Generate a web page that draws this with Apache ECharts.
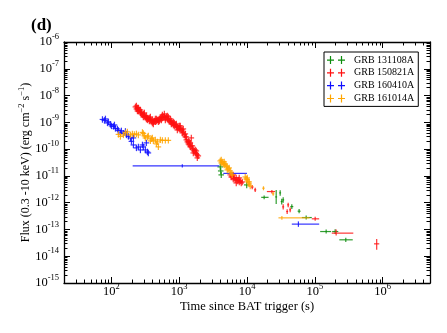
<!DOCTYPE html>
<html><head><meta charset="utf-8">
<script src="https://cdn.jsdelivr.net/npm/echarts@6/dist/echarts.min.js"></script>
<style>html,body{margin:0;padding:0;background:#fff}#c{width:447px;height:333px}</style>
</head><body><div id="c"></div>
<script>
// ---------------- DATA ----------------
const seriesNames = ['GRB 131108A', 'GRB 150821A', 'GRB 160410A', 'GRB 161014A'];
const seriesColors = ['#0c8c0c', '#ff1010', '#1010ff', '#ffa500'];

// x axis range (s) and y axis range (erg cm^-2 s^-1)
const timeRange = [20, 5e6];
const fluxRange = [1e-15, 1e-6];

// typical fractional errors of the densely sampled points
const denseTimeErr = 0.1;
const denseFluxErr = 0.32;

// dense points: [time, flux]
const grb131108A_dense = [
  [4031, 2.17e-11], [4100, 1.53e-11], [4170, 1.09e-11], [9900, 4.6e-12]
];
// points with explicit bars: [time, flux, tmin, tmax, fmin, fmax]
const grb131108A_bars = [
  [17900, 1.58e-12, 16200, 20800, 1.33e-12, 1.87e-12],
  [26944, 1.64e-12, 26100, 27800, 9.0e-13, 3.0e-12],
  [30858, 2.32e-12, 29900, 31800, 1.8e-12, 2.9e-12],
  [32500, 1.10e-12, 31400, 33600, 8.5e-13, 1.4e-12],
  [34164, 1.27e-12, 33000, 35300, 1.0e-12, 1.6e-12],
  [45800, 7.15e-13, 43500, 48200, 5.8e-13, 8.8e-13],
  [58700, 4.8e-13, 55800, 61700, 4.0e-13, 5.8e-13],
  [74590, 2.78e-13, 64400, 90300, 2.35e-13, 3.3e-13],
  [147050, 8.35e-14, 119950, 174230, 7.0e-14, 1.0e-13],
  [199560, 8.35e-14, 180240, 222000, 6.8e-14, 1.02e-13],
  [286400, 4.1e-14, 230000, 362800, 3.4e-14, 4.9e-14]
];

const grb150821A_dense = [
  [226, 3.76e-9], [234, 3.16e-9], [242, 3.45e-9], [250, 2.66e-9], [259, 2.90e-9],
  [268, 2.25e-9], [277, 2.45e-9], [287, 1.89e-9], [296, 2.06e-9], [307, 1.74e-9],
  [317, 1.59e-9], [328, 1.74e-9], [340, 1.46e-9], [351, 1.34e-9], [363, 1.46e-9],
  [376, 1.23e-9], [389, 1.13e-9], [402, 1.23e-9], [416, 1.04e-9], [430, 1.13e-9],
  [445, 1.04e-9], [461, 1.13e-9], [477, 1.23e-9], [493, 1.23e-9], [510, 1.34e-9],
  [528, 1.46e-9], [546, 1.59e-9], [565, 1.46e-9], [584, 1.59e-9], [604, 1.59e-9],
  [625, 1.46e-9], [647, 1.59e-9], [669, 1.34e-9], [692, 1.23e-9], [716, 1.13e-9],
  [740, 1.04e-9], [766, 8.7e-10], [792, 9.5e-10], [820, 8.0e-10], [848, 7.35e-10],
  [877, 8.0e-10], [907, 6.75e-10], [939, 6.75e-10], [971, 6.19e-10], [1005, 5.68e-10],
  [1039, 5.68e-10], [1075, 5.2e-10], [1112, 5.2e-10], [1151, 4.39e-10], [1190, 3.39e-10],
  [1231, 2.86e-10], [1274, 2.21e-10], [1318, 1.86e-10], [1363, 2.03e-10], [1410, 1.43e-10],
  [1459, 1.21e-10], [1509, 1.32e-10], [1561, 1.02e-10], [1615, 9.3e-11], [1671, 8.55e-11],
  [1728, 7.2e-11], [1788, 6.6e-11], [1850, 6.08e-11], [1913, 5.58e-11],
  [234, 4.09e-9], [250, 3.45e-9], [277, 2.06e-9], [307, 2.25e-9], [340, 1.23e-9],
  [376, 1.59e-9], [416, 8.7e-10], [461, 1.34e-9], [510, 1.13e-9], [565, 1.89e-9],
  [625, 1.23e-9], [692, 1.59e-9], [766, 1.13e-9], [848, 9.5e-10], [939, 5.2e-10],
  [1039, 7.35e-10], [1151, 5.68e-10], [1274, 2.86e-10], [1410, 1.86e-10], [1509, 2.62e-10],
  [1561, 1.32e-10], [1728, 9.3e-11], [1850, 4.70e-11],
  [242, 2.66e-9], [268, 2.90e-9], [296, 1.59e-9], [328, 1.34e-9], [363, 1.13e-9],
  [402, 9.5e-10], [445, 1.34e-9], [493, 1.04e-9], [546, 1.23e-9], [604, 2.06e-9],
  [669, 1.74e-9], [740, 1.34e-9], [820, 1.04e-9], [907, 8.7e-10], [1005, 7.35e-10],
  [1112, 4.03e-10], [1231, 3.70e-10], [1363, 1.57e-10], [1459, 1.71e-10], [1615, 7.2e-11],
  [1788, 8.55e-11],
  [5660, 1.09e-11], [5855, 9.1e-12], [6057, 9.95e-12], [6266, 7.7e-12], [6483, 8.4e-12],
  [6706, 7.1e-12], [6938, 8.4e-12], [7177, 6.5e-12], [7425, 7.1e-12], [7681, 5.95e-12],
  [7946, 6.5e-12], [8220, 5.45e-12], [8504, 5.95e-12], [6266, 1.09e-11], [6938, 5.45e-12],
  [7681, 8.4e-12]
];
const grb150821A_bars = [
  [11940, 3.85e-12, 11400, 12500, 3.2e-12, 4.6e-12],
  [13216, 3.0e-12, 12700, 13700, 2.5e-12, 3.6e-12],
  [23280, 2.6e-12, 19630, 26000, 2.2e-12, 3.0e-12],
  [34164, 6.97e-13, 33100, 35300, 5.5e-13, 8.8e-13],
  [40478, 8.3e-13, 39200, 41800, 6.8e-13, 1.0e-12],
  [43320, 5.4e-13, 42000, 44700, 4.4e-13, 6.6e-13],
  [39128, 4.66e-13, 37900, 40400, 3.8e-13, 5.7e-13],
  [101240, 2.49e-13, 90300, 115950, 2.1e-13, 2.95e-13],
  [206440, 7.28e-14, 177800, 369600, 6.0e-14, 1.0e-13],
  [818000, 2.9e-14, 747000, 893000, 1.73e-14, 4.35e-14]
];

const grb160410A_dense = [
  [73.8, 1.28e-9], [79, 1.18e-9], [81.7, 1.34e-9], [87.5, 9.5e-10], [90.5, 1.04e-9],
  [96.8, 8.35e-10], [100.2, 7.35e-10], [107.2, 7.05e-10], [110.9, 8.0e-10], [114.7, 5.93e-10],
  [122.8, 5.68e-10], [127, 4.98e-10], [135.9, 4.03e-10], [140.6, 4.78e-10], [150.5, 3.86e-10],
  [161, 4.58e-10], [166.6, 3.39e-10], [178.3, 2.98e-10], [190.8, 2.62e-10], [197.4, 1.94e-10],
  [211.2, 2.62e-10], [211.2, 1.43e-10], [234, 1.11e-10], [250, 1.21e-10], [268, 9.3e-11],
  [287, 1.43e-10], [296, 1.21e-10], [317, 9.3e-11], [328, 1.71e-10], [340, 7.85e-11],
  [351, 7.2e-11]
];
const grb160410A_bars = [
  [1112, 2.36e-11, 206, 3890, 2.05e-11, 2.7e-11],
  [6000, 1.24e-11, 4470, 9990, 1.1e-11, 1.4e-11],
  [57300, 1.58e-13, 45800, 116000, 1.25e-13, 2.0e-13]
];

const grb161014A_dense = [
  [127, 3.54e-10], [136, 2.98e-10], [150.5, 3.39e-10], [161, 4.03e-10], [172, 4.39e-10],
  [191, 3.39e-10], [204, 3.70e-10], [218, 3.54e-10], [234, 3.70e-10], [250, 3.39e-10],
  [287, 4.2e-10], [296, 3.86e-10], [307, 3.11e-10], [317, 2.62e-10], [340, 2.86e-10],
  [351, 3.11e-10], [376, 2.03e-10], [389, 2.41e-10], [402, 2.62e-10], [416, 2.03e-10],
  [445, 2.21e-10], [461, 1.57e-10], [477, 1.86e-10], [493, 1.21e-10], [528, 2.21e-10],
  [565, 2.12e-10], [625, 2.12e-10], [692, 2.12e-10],
  [4031, 3.62e-11], [4170, 3.05e-11], [4314, 3.33e-11], [4463, 2.8e-11], [4617, 2.57e-11],
  [4777, 2.8e-11], [4942, 2.36e-11], [5112, 2.16e-11], [5289, 1.82e-11], [5471, 1.98e-11],
  [5660, 1.53e-11], [5855, 1.29e-11], [6057, 1.09e-11], [4170, 3.95e-11], [4617, 3.33e-11],
  [5112, 1.67e-11], [9415, 9.1e-12], [9740, 7.7e-12], [10076, 7.1e-12], [10424, 5.95e-12],
  [10780, 5.0e-12], [11155, 4.2e-12], [10076, 8.4e-12], [10780, 5.95e-12]
];
const grb161014A_bars = [
  [17500, 3.47e-12, 16800, 18200, 2.9e-12, 4.1e-12],
  [24330, 2.13e-12, 23400, 25300, 1.8e-12, 2.5e-12],
  [32700, 2.71e-13, 29100, 83800, 2.3e-13, 3.2e-13]
];

const xTickExponents = [2, 3, 4, 5, 6];
const yTickExponents = [-15, -14, -13, -12, -11, -10, -9, -8, -7, -6];

// ---------------- BUILD ----------------
const FONT = 'Liberation Serif';
function withBars(dense, bars) {
  const out = dense.map(p => [p[0], p[1], p[0] / (1 + denseTimeErr), p[0] * (1 + denseTimeErr),
                              p[1] / (1 + denseFluxErr), p[1] * (1 + denseFluxErr)]);
  return out.concat(bars);
}
const allData = [
  withBars(grb131108A_dense, grb131108A_bars),
  withBars(grb150821A_dense, grb150821A_bars),
  withBars(grb160410A_dense, grb160410A_bars),
  withBars(grb161014A_dense, grb161014A_bars)
];

function crossRenderer(color) {
  return function (params, api) {
    const t = api.value(0), f = api.value(1);
    const a = api.coord([api.value(2), f]), b = api.coord([api.value(3), f]);
    const c = api.coord([t, api.value(4)]), d = api.coord([t, api.value(5)]);
    const st = { stroke: color, lineWidth: 1.2, opacity: 0.85 };
    return { type: 'group', children: [
      { type: 'line', shape: { x1: a[0], y1: a[1], x2: b[0], y2: b[1] }, style: st },
      { type: 'line', shape: { x1: c[0], y1: c[1], x2: d[0], y2: d[1] }, style: st }
    ] };
  };
}

// minor ticks (2..9 x 10^k) for both log axes
const minorTicks = [];
for (let e = 1; e <= 6; e++) for (let m = 2; m <= 9; m++) {
  const v = m * Math.pow(10, e);
  if (v > timeRange[0] && v < timeRange[1]) minorTicks.push([v, 1e-10, 0]);
}
for (let e = -15; e <= -7; e++) for (let m = 2; m <= 9; m++) {
  const v = m * Math.pow(10, e);
  if (v > fluxRange[0] && v < fluxRange[1]) minorTicks.push([1000, v, 1]);
}

function powLabel(exps) {
  return function (value) {
    const e = Math.round(Math.log10(value));
    if (Math.abs(value / Math.pow(10, e) - 1) > 1e-6 || exps.indexOf(e) < 0) return '';
    return '{b|10}{s|' + e + '}';
  };
}
const labelRich = {
  b: { fontFamily: FONT, fontSize: 12.5, color: '#000' },
  s: { fontFamily: FONT, fontSize: 8.5, color: '#000', padding: [0, 0, 10, 0] }
};
const axisLineStyle = { color: '#000', width: 1.3 };
const tickStyle = { inside: true, length: 6, lineStyle: { color: '#000', width: 1 } };

const series = seriesNames.map((name, i) => ({
  name: name, type: 'custom', coordinateSystem: 'cartesian2d',
  itemStyle: { color: seriesColors[i], borderWidth: 0 },
  encode: { x: 0, y: 1 },
  data: allData[i],
  renderItem: crossRenderer(seriesColors[i])
}));
series.push({
  name: 'minorTicks', type: 'custom', silent: true, coordinateSystem: 'cartesian2d',
  encode: { x: 0, y: 1 }, data: minorTicks, z: 1,
  renderItem: function (params, api) {
    const cs = params.coordSys;
    const st = { stroke: '#000', lineWidth: 1 };
    if (api.value(2) === 0) {
      const p = api.coord([api.value(0), 1e-10]);
      const x = Math.round(p[0]) + 0.5, yb = cs.y + cs.height, yt = cs.y;
      return { type: 'group', children: [
        { type: 'line', shape: { x1: x, y1: yb, x2: x, y2: yb - 3.5 }, style: st },
        { type: 'line', shape: { x1: x, y1: yt, x2: x, y2: yt + 3.5 }, style: st }
      ] };
    } else {
      const p = api.coord([1000, api.value(1)]);
      const y = Math.round(p[1]) + 0.5, xl = cs.x, xr = cs.x + cs.width;
      return { type: 'group', children: [
        { type: 'line', shape: { x1: xl, y1: y, x2: xl + 3.5, y2: y }, style: st },
        { type: 'line', shape: { x1: xr, y1: y, x2: xr - 3.5, y2: y }, style: st }
      ] };
    }
  }
});

const crossIcon = 'path://M0,3.5h7v1.2h-7z M2.9,0h1.2v8h-1.2z M11,3.5h7v1.2h-7z M13.9,0h1.2v8h-1.2z';

const chart = echarts.init(document.getElementById('c'), null, { renderer: 'canvas' });
chart.setOption({
  animation: false,
  backgroundColor: '#fff',
  title: { text: '(d)', left: 26, top: 12,
    textStyle: { fontFamily: FONT, fontWeight: 'bold', fontSize: 17, color: '#000' } },
  grid: { left: 64, right: 17, top: 42, bottom: 50, containLabel: false, outerBoundsMode: 'none' },
  legend: {
    orient: 'vertical', left: 324, top: 52,
    padding: [3, 4, 3, 3], itemGap: 2.8, itemWidth: 18, itemHeight: 8,
    borderColor: '#000', borderWidth: 1,
    itemStyle: { borderWidth: 0 },
    textStyle: { fontFamily: FONT, fontSize: 10, color: '#000', padding: [0, 0, 0, 4], lineHeight: 10 },
    data: seriesNames.map(n => ({ name: n, icon: crossIcon }))
  },
  xAxis: [{
    type: 'log', logBase: 10, min: timeRange[0], max: timeRange[1], position: 'bottom',
    axisLine: { lineStyle: axisLineStyle }, axisTick: tickStyle, splitLine: { show: false },
    axisLabel: { formatter: powLabel(xTickExponents), rich: labelRich, margin: -1 },
    name: 'Time since BAT trigger (s)', nameLocation: 'middle', nameGap: 17, nameMoveOverlap: false,
    nameTextStyle: { fontFamily: FONT, fontSize: 12.5, color: '#000' }
  }, {
    type: 'log', logBase: 10, min: timeRange[0], max: timeRange[1], position: 'top',
    axisLine: { lineStyle: axisLineStyle }, axisTick: tickStyle, splitLine: { show: false },
    axisLabel: { show: false }
  }],
  yAxis: [{
    type: 'log', logBase: 10, min: fluxRange[0], max: fluxRange[1], position: 'left',
    axisLine: { lineStyle: axisLineStyle }, axisTick: tickStyle, splitLine: { show: false },
    axisLabel: { formatter: powLabel(yTickExponents), rich: labelRich, margin: 5 },
    name: 'Flux (0.3 -10 keV) (erg cm{s|\u22122} s{s|\u22121})', nameLocation: 'middle', nameGap: 30, nameMoveOverlap: false,
    nameTextStyle: { fontFamily: FONT, fontSize: 12, color: '#000',
      rich: { s: { fontFamily: FONT, fontSize: 8.5, color: '#000', padding: [0, 0, 8, 0] } } }
  }, {
    type: 'log', logBase: 10, min: fluxRange[0], max: fluxRange[1], position: 'right',
    axisLine: { lineStyle: axisLineStyle }, axisTick: tickStyle, splitLine: { show: false },
    axisLabel: { show: false }
  }],
  series: series
});
</script></body></html>
